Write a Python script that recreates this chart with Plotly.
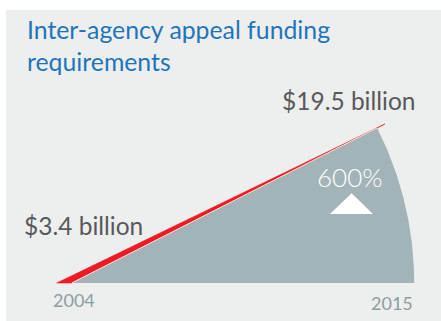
import math
import plotly.graph_objects as go

# Funding data
YEARS = [2004, 2015]
FUNDING_BN = [3.4, 19.5]
FUNDING_LABELS = ["$3.4 billion", "$19.5 billion"]
INCREASE_LABEL = "600%"
TITLE = "Inter-agency appeal funding<br>requirements"

# Colours
PANEL = "#edeeee"
SECTOR = "#a3b4b8"
RED = "#ed1c24"
BLUE = "#1f75bc"
DARK = "#58595b"
MUTED = "#8c9ea2"
FONT = "Lato"

# Canvas and axis layout
W, H = 441, 321
MARGIN = dict(l=6, r=0, t=10, b=0, pad=0)
X_RANGE = [2001.69, 2016.97]
Y_RANGE = [-4.66, 33.48]

plot_w = W - MARGIN["l"] - MARGIN["r"]
plot_h = H - MARGIN["t"] - MARGIN["b"]
sx = plot_w / (X_RANGE[1] - X_RANGE[0])   # pixels per year
sy = plot_h / (Y_RANGE[1] - Y_RANGE[0])   # pixels per billion


def offset(x, y, dx_px, dy_px):
    """Shift a data point by a pixel offset (dy up is positive)."""
    return x + dx_px / sx, y + dy_px / sy


x0, x1 = YEARS
y1 = FUNDING_BN[1]

# growth line from the 2004 baseline to the 2015 value, measured in pixels
dx_px = (x1 - x0) * sx
dy_px = y1 * sy
theta = math.atan2(dy_px, dx_px)
length = math.hypot(dx_px, dy_px)
radius = length * 0.975

fig = go.Figure()

# grey sector swept by the growth line down to the baseline
n = 80
sec_x = [x0]
sec_y = [0]
for i in range(n + 1):
    a = theta * (1 - i / n)
    px, py = offset(x0, 0, radius * math.cos(a), radius * math.sin(a))
    sec_x.append(px)
    sec_y.append(py)
sec_x.append(x0)
sec_y.append(0)
fig.add_trace(go.Scatter(x=sec_x, y=sec_y, fill="toself", fillcolor=SECTOR,
                         mode="lines", line=dict(width=0), hoverinfo="skip"))

# red wedge along the growth line
base_left, _ = offset(x0, 0, -15, 0)
fig.add_trace(go.Scatter(x=[base_left, x0, x1, base_left], y=[0, 0, y1, 0],
                         fill="toself", fillcolor=RED, mode="lines",
                         line=dict(width=0.6, color=RED), hoverinfo="skip"))

# thin light seam between wedge and sector
seam_x, seam_y = offset(x0, 0, radius * math.cos(theta), radius * math.sin(theta))
fig.add_trace(go.Scatter(x=[x0, seam_x], y=[0, seam_y], mode="lines",
                         line=dict(width=1, color="#f2f3f3"), hoverinfo="skip"))

# increase marker triangle
tri = [offset(x1, y1, -55, -90), offset(x1, y1, -12, -90),
       offset(x1, y1, -33.3, -69.3), offset(x1, y1, -55, -90)]
fig.add_trace(go.Scatter(x=[p[0] for p in tri], y=[p[1] for p in tri],
                         fill="toself", fillcolor="white", mode="lines",
                         line=dict(width=0), hoverinfo="skip"))

ann = [
    dict(x=x1, y=y1, xshift=-36, yshift=24, text=FUNDING_LABELS[1],
         font=dict(family=FONT, size=24.5, color=DARK)),
    dict(x=x0, y=FUNDING_BN[0], xshift=11.5, yshift=30, text=FUNDING_LABELS[0],
         font=dict(family=FONT, size=24.5, color=DARK)),
    dict(x=x1, y=y1, xshift=-34.5, yshift=-53, text=INCREASE_LABEL,
         font=dict(family=FONT, size=26, color="white", weight=300)),
    dict(x=x0, y=0, xshift=2, yshift=-17, text=str(YEARS[0]),
         font=dict(family=FONT, size=18, color=MUTED)),
    dict(x=x1, y=0, xshift=7, yshift=-20, text=str(YEARS[1]),
         font=dict(family=FONT, size=18, color=MUTED)),
]
for a in ann:
    fig.add_annotation(xref="x", yref="y", showarrow=False,
                       xanchor="center", yanchor="middle", **a)

fig.add_annotation(xref="paper", yref="paper", x=19 / plot_w, y=1 - 3 / plot_h,
                   xanchor="left", yanchor="top", align="left", showarrow=False,
                   text=TITLE, font=dict(family=FONT, size=24.8, color=BLUE))

fig.update_layout(
    width=W, height=H, margin=MARGIN,
    paper_bgcolor="white", plot_bgcolor=PANEL,
    showlegend=False,
    xaxis=dict(range=X_RANGE, visible=False, fixedrange=True),
    yaxis=dict(range=Y_RANGE, visible=False, fixedrange=True),
)

fig.write_html("out.html")
